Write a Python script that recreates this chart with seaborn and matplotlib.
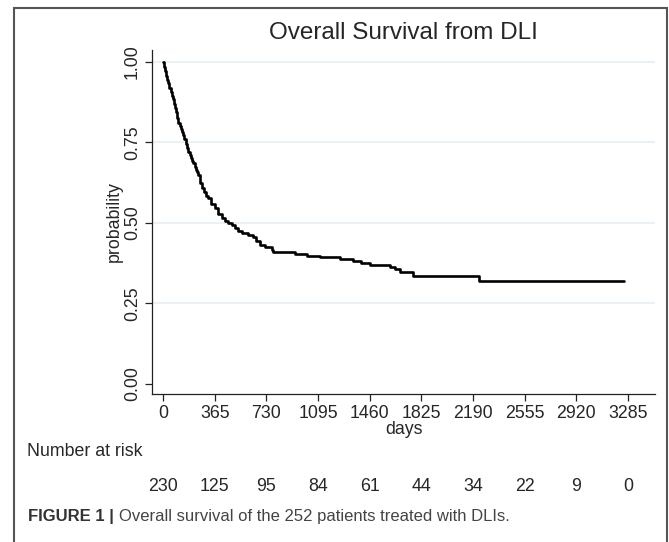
import numpy as np
import pandas as pd
import seaborn as sns
import matplotlib.pyplot as plt
from matplotlib.patches import Rectangle

# Kaplan-Meier estimate (days, survival probability)
days = [0, 8, 15, 23, 30, 37, 45, 53, 60, 67, 75, 82, 90, 99, 108, 117, 125,
        134, 143, 151, 160, 170, 179, 188, 196, 205, 214, 223, 232, 241, 249,
        262, 273, 290, 305, 320, 340, 367, 390, 414, 440, 462, 485, 510,
        530, 556, 600, 638, 660, 685, 720, 767, 779, 932, 1020, 1108, 1250,
        1344, 1400, 1462, 1603, 1640, 1674, 1766, 2230, 3256]
surv = [1.0, 0.985, 0.97, 0.957, 0.945, 0.935, 0.92, 0.907, 0.895, 0.883, 0.87,
        0.858, 0.845, 0.827, 0.809, 0.80, 0.79, 0.782, 0.773, 0.759, 0.745,
        0.733, 0.721, 0.71, 0.70, 0.692, 0.685, 0.675, 0.665, 0.657, 0.649,
        0.625, 0.608, 0.595, 0.585, 0.576, 0.56, 0.545, 0.528, 0.514, 0.505,
        0.50, 0.494, 0.485, 0.475, 0.468, 0.462, 0.455, 0.445, 0.432, 0.425,
        0.416, 0.409, 0.403, 0.398, 0.393, 0.388, 0.382, 0.375, 0.368, 0.363,
        0.356, 0.349, 0.335, 0.321, 0.321]

x_ticks = [0, 365, 730, 1095, 1460, 1825, 2190, 2555, 2920, 3285]
y_ticks = [0.0, 0.25, 0.5, 0.75, 1.0]
at_risk = [230, 125, 95, 84, 61, 44, 34, 22, 9, 0]

df = pd.DataFrame({'days': days, 'surv': surv})

sns.set_style('white')
plt.rcParams['font.family'] = ['Liberation Sans', 'DejaVu Sans']

fig = plt.figure(figsize=(6.69, 5.42), dpi=100)
ax = fig.add_axes([0.2272, 0.273, 0.752, 0.635])

for y in y_ticks[1:]:
    ax.axhline(y, color='#e7f0f3', lw=1.3, zorder=0)

sns.lineplot(data=df, x='days', y='surv', drawstyle='steps-post',
             color='black', linewidth=1.9, estimator=None, ax=ax)

ax.set_xlim(-78, 3476)
ax.set_ylim(-0.031, 1.037)
ax.set_xticks(x_ticks)
ax.set_yticks(y_ticks)
ax.set_yticklabels([f'{v:.2f}' for v in y_ticks], rotation=90, va='center')
ax.tick_params(axis='both', direction='out', length=5, width=0.9,
               color='#222222', labelsize=12.8, pad=3, left=True, bottom=True)
for side in ['top', 'right']:
    ax.spines[side].set_visible(False)
for side in ['left', 'bottom']:
    ax.spines[side].set_color('#222222')
    ax.spines[side].set_linewidth(0.9)

ax.set_xlabel('days', fontsize=12.8, labelpad=-1)
ax.set_ylabel('probability', fontsize=12.8, labelpad=1)
ax.set_title('Overall Survival from DLI', fontsize=17.5, pad=8)

# number at risk table
trans = ax.get_xaxis_transform()
fig.text(0.040, 1 - 452 / 542, 'Number at risk', fontsize=12.8, va='center')
for xv, n in zip(x_ticks, at_risk):
    ax.text(xv, -0.27, str(n), transform=trans, ha='center', va='center',
            fontsize=12.8)

# caption
cap = fig.text(0.042, 1 - 516 / 542, 'FIGURE 1 | ', fontsize=12, weight='bold',
               color='#333333', va='center')
ax.annotate('Overall survival of the 252 patients treated with DLIs.',
            xy=(1, 0.5), xycoords=cap, va='center', ha='left', fontsize=12,
            color='#444444', annotation_clip=False)

# frame around the whole figure panel
fig.patches.append(Rectangle((0.021, -0.1), 0.976, 1.085, transform=fig.transFigure,
                             fill=False, ec='#555555', lw=1.5))

fig.savefig('out.png', dpi=100)
